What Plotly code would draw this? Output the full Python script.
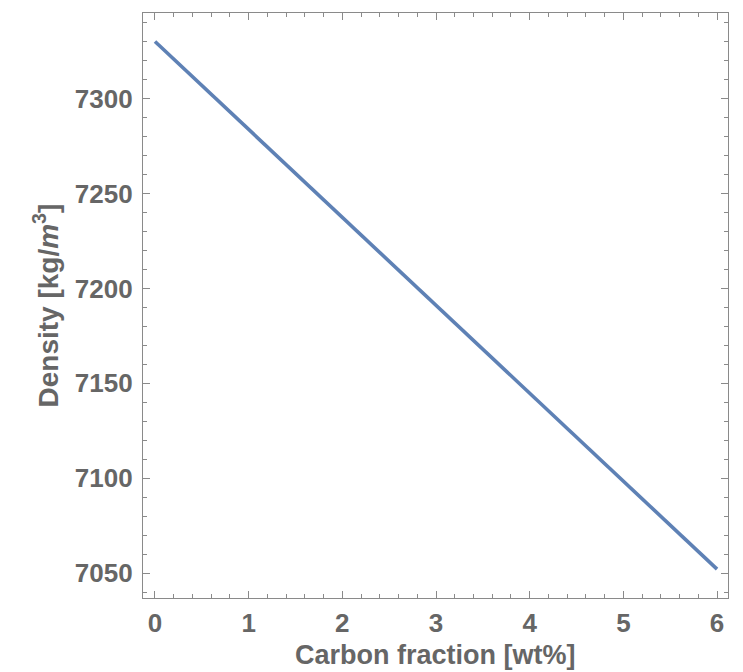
import plotly.graph_objects as go

carbon = [0, 1, 2, 3, 4, 5, 6]
density = [7330, 7283.7, 7237.4, 7191.1, 7144.8, 7098.5, 7052.2]

x_ticks = [0, 1, 2, 3, 4, 5, 6]
y_ticks = [7050, 7100, 7150, 7200, 7250, 7300]

x_title = "Carbon fraction [wt%]"
y_title = "Density [kg/<i>m</i><sup>3</sup>]"

gray = "#666666"
fam = "Liberation Sans, Arial, sans-serif"
tick_font = dict(family=fam, size=26, color=gray, weight="bold")
title_font = dict(family=fam, size=27, color=gray, weight="bold")

fig = go.Figure()
fig.add_trace(go.Scatter(x=carbon, y=density, mode="lines",
                         line=dict(color="#5E81B5", width=3.6), showlegend=False))

axis_common = dict(
    showgrid=False, zeroline=False, showline=True, linecolor="#8a8a8a", linewidth=1.2,
    ticks="inside", ticklen=7, tickwidth=1.2, tickcolor="#8a8a8a", mirror="allticks",
    tickfont=tick_font, automargin=False,
)

fig.update_xaxes(
    range=[-0.128, 6.117], tickvals=x_ticks, ticktext=[str(v) for v in x_ticks],
    minor=dict(ticks="inside", ticklen=4, tickwidth=1, tickcolor="#8a8a8a", dtick=0.2, tick0=0),
    ticklabelstandoff=2,
    **axis_common,
)
fig.update_yaxes(
    range=[7037, 7345], tickvals=y_ticks, ticktext=[str(v) for v in y_ticks],
    minor=dict(ticks="inside", ticklen=4, tickwidth=1, tickcolor="#8a8a8a", dtick=10, tick0=7000),
    ticklabelstandoff=4,
    **axis_common,
)
fig.add_annotation(text=x_title, xref="paper", yref="paper", x=0.5, y=0,
                   xanchor="center", yanchor="middle", yshift=-57, showarrow=False,
                   font=title_font)
fig.add_annotation(text=y_title, xref="paper", yref="paper", x=0, y=0.5,
                   xanchor="center", yanchor="middle", xshift=-97, showarrow=False,
                   textangle=-90, font=dict(family=fam, size=28, color=gray, weight="bold"))
fig.update_layout(
    width=743, height=672,
    margin=dict(l=143, r=15, t=13, b=74, autoexpand=False),
    paper_bgcolor="white", plot_bgcolor="white",
    font=dict(family=fam, color=gray, size=20),
)
fig.write_html("out.html")
